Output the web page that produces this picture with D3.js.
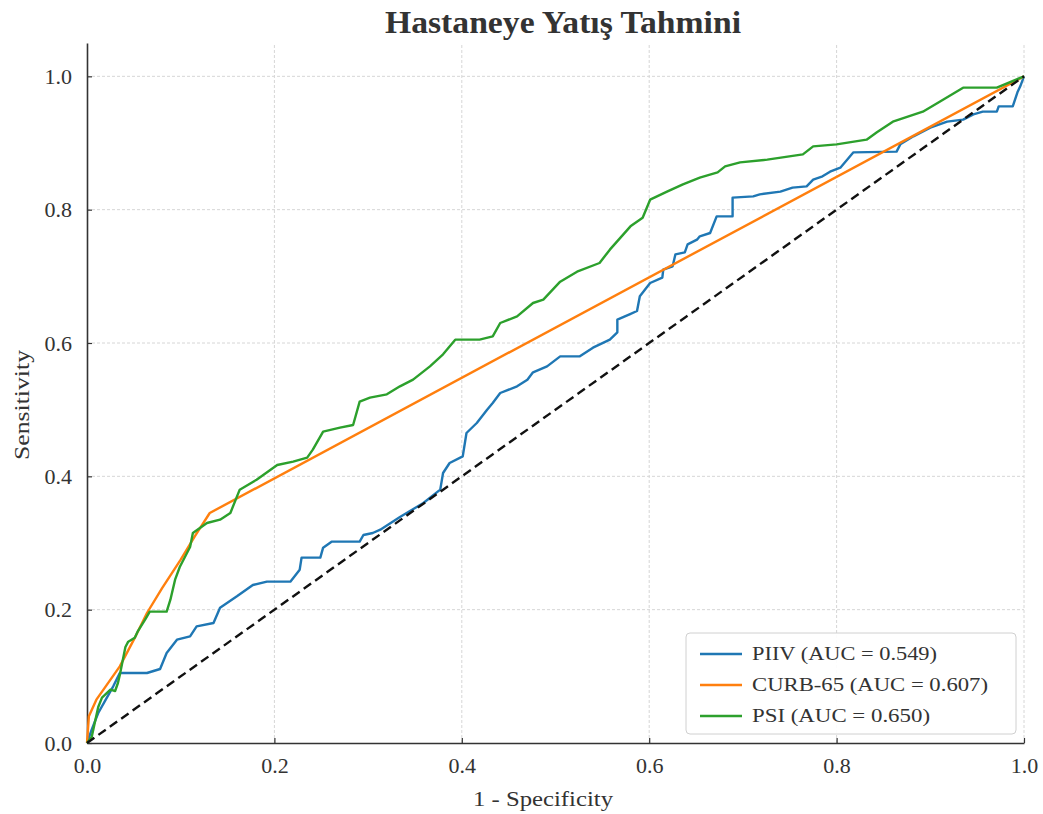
<!DOCTYPE html>
<html>
<head>
<meta charset="utf-8">
<script src="https://cdn.jsdelivr.net/npm/d3@7"></script>
<style>
body { margin: 0; background: #fff; }
svg { font-family: "Liberation Serif", "DejaVu Serif", serif; }
</style>
</head>
<body>
<div id="D3"></div>
<script>
// ROC points: [1 - specificity, sensitivity]
var piivPoints = [
	[0,0],[0.005,0.02],[0.012,0.045],[0.02,0.065],[0.028,0.085],[0.035,0.105],[0.064,0.105],
	[0.078,0.111],[0.085,0.135],[0.096,0.155],[0.11,0.16],[0.117,0.175],[0.135,0.18],[0.142,0.203],
	[0.16,0.22],[0.177,0.237],[0.192,0.242],[0.217,0.242],[0.227,0.26],[0.229,0.278],[0.249,0.278],
	[0.252,0.293],[0.261,0.302],[0.291,0.302],[0.295,0.312],[0.305,0.315],[0.313,0.32],[0.334,0.339],
	[0.359,0.36],[0.377,0.38],[0.38,0.405],[0.387,0.42],[0.401,0.43],[0.405,0.465],[0.416,0.48],
	[0.427,0.5],[0.433,0.51],[0.441,0.525],[0.459,0.535],[0.47,0.545],[0.476,0.556],[0.491,0.565],
	[0.505,0.58],[0.526,0.58],[0.54,0.593],[0.558,0.605],[0.566,0.616],[0.566,0.635],[0.579,0.643],
	[0.587,0.648],[0.59,0.67],[0.601,0.69],[0.614,0.698],[0.615,0.71],[0.625,0.715],[0.628,0.733],
	[0.638,0.736],[0.641,0.748],[0.651,0.755],[0.654,0.76],[0.665,0.765],[0.672,0.79],[0.689,0.79],
	[0.689,0.818],[0.711,0.82],[0.718,0.823],[0.74,0.827],[0.753,0.833],[0.768,0.835],[0.775,0.845],
	[0.785,0.85],[0.793,0.857],[0.804,0.863],[0.818,0.886],[0.864,0.887],[0.868,0.898],[0.882,0.91],
	[0.9,0.923],[0.918,0.932],[0.935,0.935],[0.946,0.943],[0.956,0.947],[0.971,0.947],[0.973,0.955],
	[0.988,0.955],[0.993,0.976],[0.996,0.985],[1,1]
];
var curbPoints = [
	[0,0],[0.002,0.04],[0.01,0.065],[0.02,0.085],[0.035,0.115],[0.05,0.155],[0.064,0.195],
	[0.08,0.232],[0.1,0.275],[0.115,0.31],[0.131,0.345],[1,1]
];
var psiPoints = [
	[0,0],[0.005,0.009],[0.009,0.035],[0.012,0.054],[0.016,0.068],[0.025,0.08],[0.03,0.078],
	[0.033,0.09],[0.035,0.102],[0.041,0.144],[0.044,0.152],[0.051,0.158],[0.054,0.167],[0.062,0.185],
	[0.067,0.197],[0.085,0.197],[0.089,0.215],[0.094,0.245],[0.099,0.264],[0.11,0.294],[0.113,0.315],
	[0.128,0.33],[0.142,0.335],[0.153,0.345],[0.163,0.38],[0.181,0.395],[0.203,0.417],[0.22,0.422],
	[0.235,0.428],[0.241,0.44],[0.252,0.467],[0.27,0.473],[0.284,0.477],[0.291,0.512],[0.302,0.518],
	[0.32,0.523],[0.334,0.535],[0.348,0.545],[0.366,0.565],[0.38,0.583],[0.393,0.605],[0.419,0.605],
	[0.433,0.61],[0.441,0.63],[0.459,0.64],[0.476,0.66],[0.487,0.665],[0.505,0.692],[0.523,0.707],
	[0.547,0.72],[0.558,0.74],[0.58,0.775],[0.593,0.788],[0.601,0.815],[0.619,0.827],[0.636,0.838],
	[0.654,0.848],[0.673,0.856],[0.681,0.865],[0.697,0.871],[0.726,0.875],[0.764,0.883],[0.775,0.895],
	[0.8,0.898],[0.832,0.905],[0.843,0.916],[0.86,0.932],[0.892,0.947],[0.91,0.962],[0.935,0.983],
	[0.971,0.983],[1,1]
];
var chancePoints = [[0,0],[1,1]];

var seriesNames = ["PIIV (AUC = 0.549)", "CURB-65 (AUC = 0.607)", "PSI (AUC = 0.650)"];
var seriesColors = ["#1f77b4", "#ff7f0e", "#2ca02c"];
var tickValues = [0, 0.2, 0.4, 0.6, 0.8, 1.0];

var W = 1043, H = 814;
var SVG = d3.select("#D3").append("svg").attr("width", W).attr("height", H);

var x = d3.scaleLinear().domain([0, 1]).range([87, 1024]);
var y = d3.scaleLinear().domain([0, 1.05]).range([743, 43]);

// grid
SVG.append("g").selectAll("line").data(tickValues.slice(1)).enter().append("line")
	.attr("x1", function (d) { return x(d); }).attr("x2", function (d) { return x(d); })
	.attr("y1", y(0)).attr("y2", y(1.05))
	.attr("stroke", "#d6d6d6").attr("stroke-width", 1).attr("stroke-dasharray", "3,2");
SVG.append("g").selectAll("line").data(tickValues.slice(1)).enter().append("line")
	.attr("x1", x(0)).attr("x2", x(1))
	.attr("y1", function (d) { return y(d); }).attr("y2", function (d) { return y(d); })
	.attr("stroke", "#d6d6d6").attr("stroke-width", 1).attr("stroke-dasharray", "3,2");

// axes, ticks pointing inward
var xAxis = d3.axisBottom(x).tickValues(tickValues).tickFormat(d3.format(".1f"))
	.tickSizeInner(-5).tickSizeOuter(0).tickPadding(14);
var yAxis = d3.axisLeft(y).tickValues(tickValues).tickFormat(d3.format(".1f"))
	.tickSizeInner(-5).tickSizeOuter(0).tickPadding(15);

var gx = SVG.append("g").attr("transform", "translate(0," + y(0) + ")").call(xAxis);
var gy = SVG.append("g").attr("transform", "translate(" + x(0) + ",0)").call(yAxis);
[gx, gy].forEach(function (g) {
	g.select(".domain").attr("stroke", "#333").attr("stroke-width", 1.6);
	g.selectAll(".tick line").attr("stroke", "#333").attr("stroke-width", 1.2);
	g.selectAll(".tick text").attr("fill", "#333").style("font-size", "22px")
		.style("font-family", "'Liberation Serif', serif");
});

var line = d3.line()
	.x(function (d) { return x(d[0]); })
	.y(function (d) { return y(d[1]); });

var allSeries = [piivPoints, curbPoints, psiPoints];
SVG.append("g").selectAll("path").data(allSeries).enter().append("path")
	.attr("d", line)
	.attr("fill", "none")
	.attr("stroke", function (d, i) { return seriesColors[i]; })
	.attr("stroke-width", 2.4)
	.attr("stroke-linejoin", "round");

SVG.append("path").datum(chancePoints).attr("d", line)
	.attr("fill", "none").attr("stroke", "#111").attr("stroke-width", 2.4)
	.attr("stroke-dasharray", "9,5");

// title & axis labels (glyphs in the picture are a bit wider than Liberation Serif)
SVG.append("text").attr("x", 563).attr("y", 33).attr("text-anchor", "middle")
	.style("font-size", "31px").style("font-weight", "bold").attr("fill", "#333")
	.attr("textLength", 356).attr("lengthAdjust", "spacingAndGlyphs")
	.text("Hastaneye Yatış Tahmini");
SVG.append("text").attr("x", 543).attr("y", 806).attr("text-anchor", "middle")
	.style("font-size", "22px").attr("fill", "#333")
	.attr("textLength", 140).attr("lengthAdjust", "spacingAndGlyphs")
	.text("1 - Specificity");
SVG.append("text").attr("transform", "translate(29,405) rotate(-90)").attr("text-anchor", "middle")
	.style("font-size", "22px").attr("fill", "#333")
	.attr("textLength", 110).attr("lengthAdjust", "spacingAndGlyphs")
	.text("Sensitivity");

// legend
var legendWidths = [185, 236, 178];
var legend = SVG.append("g").attr("transform", "translate(686,633)");
legend.append("rect").attr("width", 330).attr("height", 101).attr("rx", 4)
	.attr("fill", "#fff").attr("fill-opacity", 0.9).attr("stroke", "#d0d0d0");
var rows = legend.selectAll("g.row").data(seriesNames).enter().append("g")
	.attr("transform", function (d, i) { return "translate(0," + (21 + i * 31) + ")"; });
rows.append("line").attr("x1", 14).attr("x2", 56).attr("y1", 0).attr("y2", 0)
	.attr("stroke", function (d, i) { return seriesColors[i]; }).attr("stroke-width", 2.4);
rows.append("text").attr("x", 66).attr("y", 6).style("font-size", "19px").attr("fill", "#333")
	.attr("textLength", function (d, i) { return legendWidths[i]; })
	.attr("lengthAdjust", "spacingAndGlyphs")
	.text(function (d) { return d; });
</script>
</body>
</html>
